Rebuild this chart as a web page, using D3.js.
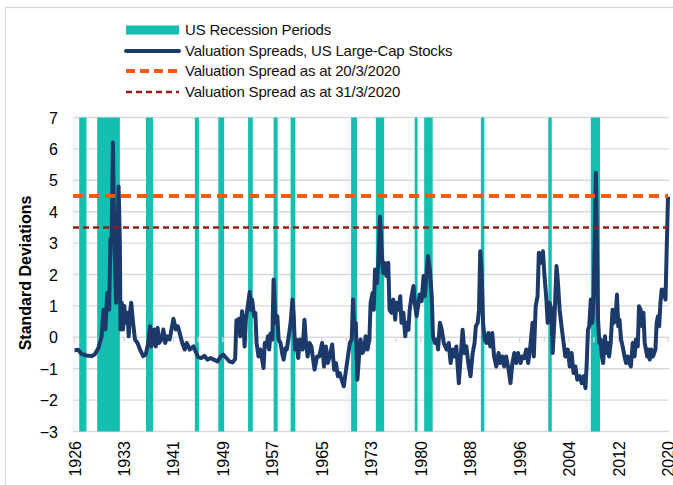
<!DOCTYPE html>
<html>
<head>
<meta charset="utf-8">
<script src="https://cdn.jsdelivr.net/npm/d3@7"></script>
<style>
  html, body { margin: 0; padding: 0; background: #fff; }
  svg { display: block; font-family: "Liberation Sans", Arial, sans-serif; }
</style>
</head>
<body>
<svg id="chart" width="673" height="485"></svg>
<script>
// ---------- DATA ----------
const yearTickLabels = ["1926","1933","1941","1949","1957","1965","1973","1980","1988","1996","2004","2012","2020"];
const yTicks = [-3, -2, -1, 0, 1, 2, 3, 4, 5, 6, 7];

// US recession periods (start, end) in decimal years
const recessionStart = [1926.75, 1929.6, 1937.35, 1945.1, 1948.83, 1953.55, 1957.6, 1960.3, 1969.9, 1973.83, 1980.0, 1981.5, 1990.5, 2001.2, 2007.95];
const recessionEnd   = [1927.9, 1933.2, 1938.45, 1945.75, 1949.75, 1954.3, 1958.25, 1961.05, 1970.85, 1975.15, 1980.45, 1982.85, 1991.05, 2001.75, 2009.4];

// Valuation spreads, US large-cap stocks (standard deviations)
const spreadYears = [
 1926.0,1926.6,1927.1,1927.9,1928.7,1929.2,1929.8,1930.3,1930.6,1930.9,1931.2,1931.5,1931.7,1931.9,1932.1,1932.3,1932.6,1932.8,1933.0,1933.2,
 1933.3,1933.5,1933.7,1933.9,1934.1,1934.4,1934.6,1934.8,1935.0,1935.3,1935.6,1936.0,1936.4,1936.9,1937.3,1937.7,1938.0,1938.2,1938.6,1938.9,
 1939.2,1939.4,1939.8,1940.1,1940.4,1940.7,1941.1,1941.4,1941.7,1942.1,1942.4,1942.7,1943.1,1943.5,1943.8,1944.3,1944.9,
 1945.6,1946.1,1946.6,1947.1,1947.6,1948.1,1948.7,1949.2,1949.6,1950.1,1950.6,1951.1,1951.5,1951.7,1951.9,1952.1,1952.3,1952.6,1952.8,
 1953.0,1953.2,1953.5,1953.8,1954.0,1954.2,1954.5,1954.7,1954.9,1955.2,1955.5,1955.7,1956.0,1956.2,1956.5,1956.7,1956.9,1957.1,1957.4,1957.6,
 1957.9,1958.2,1958.4,1958.7,1959.0,1959.2,1959.5,1959.7,1960.0,1960.3,1960.6,1960.8,1961.0,1961.2,1961.5,1961.8,1962.2,1962.5,1962.7,1963.0,
 1963.3,1963.6,1964.1,1964.5,
 1964.85,1965.3,1965.6,1965.9,1966.2,1966.5,1966.9,1967.2,1967.5,1967.8,1968.1,1968.4,1968.75,1969.1,1969.4,1969.7,1970.0,1970.2,1970.4,1970.65,
 1970.9,1971.2,1971.4,1971.7,1972.0,1972.2,1972.5,1972.8,1973.0,1973.3,1973.5,1973.7,1974.0,1974.2,1974.5,1974.8,1975.0,1975.2,1975.5,1975.8,
 1976.0,1976.3,1976.6,1976.9,1977.1,1977.4,1977.7,1977.9,1978.2,1978.5,1978.7,1979.0,1979.2,1979.5,1979.8,1980.0,1980.3,1980.6,1980.8,1981.1,
 1981.4,1981.6,1981.9,1982.1,1982.4,1982.7,1982.9,1983.2,1983.5,1983.7,1984.0,1984.3,
 1984.6,1985.05,1985.4,1985.7,1986.0,1986.3,1986.6,1987.0,1987.3,1987.6,1987.9,1988.2,1988.5,1988.85,1989.2,1989.5,1989.7,1990.0,1990.2,1990.4,
 1990.6,1990.85,1991.1,1991.4,1991.7,1992.0,1992.3,1992.6,1992.95,1993.3,1993.6,1993.9,1994.2,1994.5,1994.9,1995.2,1995.5,1995.8,1996.1,1996.4,
 1996.8,1997.1,1997.4,1997.7,1998.0,1998.3,1998.7,1998.9,1999.2,1999.5,1999.7,2000.0,2000.35,2000.6,2000.9,2001.1,2001.4,2001.7,2001.9,2002.2,
 2002.5,2002.7,2003.0,2003.3,2003.5,
 2003.9,2004.3,2004.6,2004.9,2005.2,2005.5,2005.8,2006.2,2006.5,2006.8,2007.1,2007.3,2007.5,2007.7,2007.95,2008.2,2008.4,2008.6,2008.75,2008.9,
 2009.1,2009.3,2009.5,2009.7,2009.9,2010.2,2010.4,2010.6,2010.85,2011.1,2011.4,2011.6,2011.9,2012.1,2012.3,2012.5,2012.75,2013.0,2013.3,2013.55,
 2013.8,2014.1,2014.3,2014.6,2014.9,2015.1,2015.4,2015.6,2015.85,2016.1,2016.3,2016.5,2016.7,2016.9,2017.1,2017.3,2017.55,2017.8,2018.0,2018.2,
 2018.4,2018.6,2018.8,2019.0,2019.2,2019.4,2019.6,2019.8,2020.2
];
const spreadValues = [
 -0.41,-0.40,-0.53,-0.58,-0.60,-0.55,-0.34,0.03,0.88,0.25,1.41,0.88,3.12,3.20,6.20,3.20,1.10,3.20,4.80,3.00,
 0.25,1.10,0.25,1.00,0.46,0.78,0.03,0.78,1.10,0.46,-0.07,-0.18,-0.39,-0.60,-0.55,-0.18,0.35,-0.29,0.25,-0.29,
 0.30,-0.18,-0.07,0.25,-0.18,0.03,-0.07,0.25,0.59,0.25,0.35,0.14,-0.18,-0.39,-0.18,-0.39,-0.29,
 -0.63,-0.66,-0.59,-0.71,-0.66,-0.71,-0.77,-0.61,-0.55,-0.66,-0.77,-0.80,-0.69,0.54,0.24,0.59,0.03,0.83,0.46,
 -0.29,0.56,0.99,1.44,0.88,1.20,0.67,0.78,-0.18,-0.61,-0.39,-0.61,-0.98,-0.18,-0.29,0.03,-0.39,0.12,-0.07,1.84,
 0.46,0.67,-0.07,-0.18,-0.55,-0.71,-0.34,-0.39,0.03,0.46,1.20,0.67,-0.39,-0.07,-0.66,-0.07,-0.39,0.56,-0.07,-0.61,
 -0.18,-0.29,-1.03,-0.61,
 -0.61,-0.18,-0.93,-0.29,-0.82,-0.61,-0.23,-1.03,-0.82,-1.24,-1.14,-1.35,-1.56,-1.03,-0.61,-0.18,-0.07,1.20,0.24,0.46,
 -1.35,-0.50,-0.07,-0.50,-0.39,0.03,-0.39,-0.07,1.10,1.41,0.88,2.16,1.73,2.27,3.84,2.59,2.05,2.37,1.95,2.37,
 0.88,0.78,1.20,0.56,1.10,0.88,1.31,0.46,0.78,0.03,0.46,0.24,0.88,1.31,1.63,1.10,0.67,1.10,1.36,1.15,
 1.95,1.31,2.05,2.59,2.16,1.31,0.03,-0.18,-0.07,-0.39,0.46,0.24,
 -0.18,-0.39,-0.18,-0.82,-0.39,-0.61,-0.29,-1.46,-0.61,0.24,-0.50,-0.29,-0.82,-1.24,-0.50,-0.18,0.35,0.46,0.88,2.74,
 2.16,0.46,-0.07,-0.18,0.14,-0.29,0.14,-0.61,-0.93,-0.50,-0.82,-0.61,-0.93,-0.61,-1.03,-1.46,-0.82,-0.50,-0.82,-0.50,
 -0.82,-0.61,-0.66,-0.39,-0.82,-0.39,0.46,-0.61,0.99,1.31,2.69,2.37,2.74,1.95,1.20,0.46,1.10,0.88,-0.50,0.67,
 2.27,1.84,0.88,0.35,0.03,
 -0.61,-0.39,-0.93,-0.50,-1.14,-0.93,-1.35,-1.24,-1.46,-1.24,-1.62,-0.82,0.24,0.35,1.20,0.46,1.31,3.54,5.24,3.22,
 0.56,-0.18,-0.07,-0.61,-0.82,0.03,-0.50,-0.18,-0.61,-0.18,0.88,0.46,0.67,1.36,0.35,0.56,-0.07,-0.29,-0.61,-0.82,
 -0.61,-0.82,-0.93,-0.18,-0.61,-0.07,-0.29,0.99,0.88,0.35,0.78,-0.18,-0.39,-0.61,-0.39,-0.71,-0.39,-0.61,-0.50,-0.39,
 0.46,0.67,0.35,1.10,1.52,1.31,1.52,1.20,4.48
];

const spreadAt20Mar = 4.5;
const spreadAt31Mar = 3.5;

const legendLabels = [
  "US Recession Periods",
  "Valuation Spreads, US Large-Cap Stocks",
  "Valuation Spread as at 20/3/2020",
  "Valuation Spread as at 31/3/2020"
];

// ---------- STYLE ----------
const C = {
  teal: "#14bfb1",
  navy: "#1b3a6a",
  orange: "#f25a0c",
  darkred: "#9c1a12",
  grid: "#d9d9d9"
};

const svg = d3.select("#chart");

// outer frame
svg.append("rect").attr("x", 5.5).attr("y", 7.5).attr("width", 700).attr("height", 500)
  .attr("fill", "none").attr("stroke", "#d9d9d9").attr("stroke-width", 1.3);

const xStart = 1926, xEnd = 2020.2;
const x = d3.scaleLinear().domain([xStart, xEnd]).range([74.5, 668]);
const y = d3.scaleLinear().domain([-3, 7]).range([431.5, 117.5]);
const plotLeft = 73, plotRight = 669;

// gridlines
svg.append("g").selectAll("line").data(yTicks).join("line")
  .attr("x1", plotLeft).attr("x2", plotRight)
  .attr("y1", d => y(d)).attr("y2", d => y(d))
  .attr("stroke", C.grid).attr("stroke-width", 1.4);

// recession bars
const rec = recessionStart.map((s, i) => ({ s, e: recessionEnd[i] }));
svg.append("g").selectAll("rect").data(rec).join("rect")
  .attr("x", d => x(d.s)).attr("width", d => x(d.e) - x(d.s))
  .attr("y", y(7)).attr("height", y(-3) - y(7))
  .attr("fill", C.teal);

// x axis at 0 with small ticks
const tickPos = d3.range(25).map(k => xStart + k * (xEnd - xStart) / 24);
svg.append("g").selectAll("line").data(tickPos).join("line")
  .attr("x1", d => x(d)).attr("x2", d => x(d))
  .attr("y1", y(0)).attr("y2", y(0) + 5)
  .attr("stroke", C.grid).attr("stroke-width", 1.4);

// y axis labels
const yAxis = d3.axisLeft(y).tickValues(yTicks).tickSize(0).tickPadding(0).tickFormat(d3.format("d"));
const gy = svg.append("g").attr("transform", "translate(58,0)").call(yAxis);
gy.select(".domain").remove();
gy.selectAll("text").attr("font-size", 16).attr("fill", "#000")
  .attr("font-family", "'Liberation Sans', Arial, sans-serif").attr("dy", "0.35em");

// x axis labels (rotated)
const labelPos = yearTickLabels.map((t, k) => ({ t, v: xStart + k * (xEnd - xStart) / 12 }));
svg.append("g").selectAll("text").data(labelPos).join("text")
  .attr("transform", d => `translate(${x(d.v) + 6},441) rotate(-90)`)
  .attr("text-anchor", "end")
  .attr("font-size", 16).attr("fill", "#000")
  .text(d => d.t);

// y title
svg.append("text")
  .attr("transform", "translate(31,273) rotate(-90)")
  .attr("text-anchor", "middle")
  .attr("font-size", 16).attr("font-weight", "bold").attr("fill", "#000")
  .text("Standard Deviations");

// spread line
const pts = spreadYears.map((yr, i) => [yr, spreadValues[i]]);
svg.append("path").datum(pts)
  .attr("fill", "none").attr("stroke", C.navy).attr("stroke-width", 4)
  .attr("stroke-linejoin", "round")
  .attr("d", d3.line().x(d => x(d[0])).y(d => y(d[1])));

// reference lines
svg.append("line").attr("x1", plotLeft).attr("x2", plotRight - 1)
  .attr("y1", y(spreadAt20Mar)).attr("y2", y(spreadAt20Mar))
  .attr("stroke", C.orange).attr("stroke-width", 4).attr("stroke-dasharray", "10,6");
svg.append("line").attr("x1", plotLeft).attr("x2", plotRight - 1)
  .attr("y1", y(spreadAt31Mar)).attr("y2", y(spreadAt31Mar))
  .attr("stroke", C.darkred).attr("stroke-width", 2.5).attr("stroke-dasharray", "6,4");

// legend
const lg = svg.append("g");
const rowsY = [30, 51, 71, 92];
lg.append("rect").attr("x", 126).attr("y", rowsY[0] - 4.5).attr("width", 53).attr("height", 9).attr("fill", C.teal);
lg.append("line").attr("x1", 126).attr("x2", 179).attr("y1", rowsY[1]).attr("y2", rowsY[1])
  .attr("stroke", C.navy).attr("stroke-width", 4).attr("stroke-linecap", "round");
lg.append("line").attr("x1", 126).attr("x2", 179).attr("y1", rowsY[2]).attr("y2", rowsY[2])
  .attr("stroke", C.orange).attr("stroke-width", 4).attr("stroke-dasharray", "9,5");
lg.append("line").attr("x1", 126).attr("x2", 179).attr("y1", rowsY[3]).attr("y2", rowsY[3])
  .attr("stroke", C.darkred).attr("stroke-width", 2.5).attr("stroke-dasharray", "6,4");
lg.selectAll("text.lab").data(legendLabels).join("text").attr("class", "lab")
  .attr("x", 185).attr("y", (d, i) => rowsY[i]).attr("dy", "0.35em")
  .attr("font-size", 15).attr("letter-spacing", "-0.2px").attr("fill", "#111")
  .text(d => d);
</script>
</body>
</html>
